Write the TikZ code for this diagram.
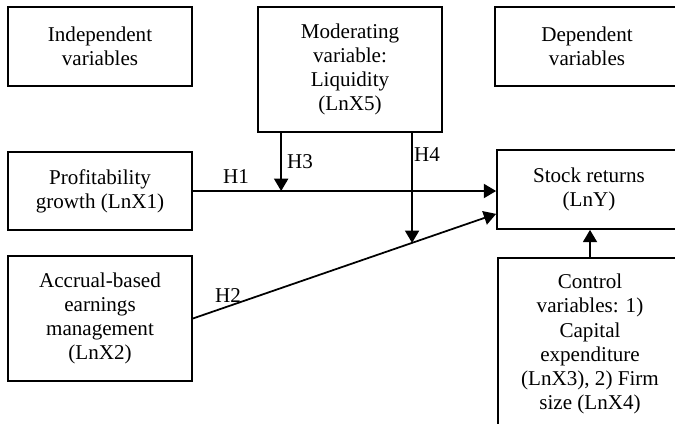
\documentclass[tikz,border=0pt]{standalone}
\usepackage{fontspec}
\setmainfont{Liberation Serif}
\usetikzlibrary{arrows.meta,calc}

\begin{document}
\begin{tikzpicture}[x=0.02cm,y=-0.02cm,
  varbox/.style={draw,line width=1pt,align=center,minimum width=3.68cm,inner sep=2pt,
    font=\fontsize{12}{13.7}\selectfont},
  link/.style={line width=1pt,-{Triangle[length=7pt,width=8pt]}},
  hyp/.style={font=\fontsize{12}{13.7}\selectfont,inner sep=1pt}]
\useasboundingbox (0,0) rectangle (675,423);
\clip (0,0) rectangle (675,423);
% boxes
\node [varbox,minimum height=1.58cm] (indep)  at (100,46.5) {Independent\\variables};
\node [varbox,minimum height=2.5cm]  (moder)  at (350,69.5) {Moderating\\variable:\\Liquidity\\(LnX5)};
\node [varbox,minimum height=1.58cm] (dep)    at (587,46.5) {Dependent\\variables};
\node [varbox,minimum height=1.56cm] (profit) at (100,191) {Profitability\\growth (LnX1)};
\node [varbox,minimum height=2.5cm]  (accrual) at (100,318.5) {Accrual-based\\earnings\\management\\(LnX2)};
\node [varbox,minimum height=1.58cm] (stock)  at (589,189.5) {Stock returns\\(LnY)};
\node [varbox,minimum height=3.44cm] (ctrl)   at (590,344) {Control\\variables: 1)\\Capital\\expenditure\\(LnX3), 2) Firm\\size (LnX4)};
% connectors
\coordinate (h2end) at ($(stock.south west)+(0,-16)$);
\coordinate (h3top) at ($(moder.south west)+(24,0)$);
\coordinate (h4end) at ($(accrual.east)!0.7228!(h2end)$);
\draw [link] (profit.east) -- (stock.west |- profit.east);
\draw [link] (accrual.east) -- (h2end);
\draw [link] (h3top) -- (h3top |- profit.east);
\draw [link] (h4end |- moder.south) -- (h4end);
\draw [link] (ctrl.north) -- (ctrl.north |- stock.south);
% labels
\node [hyp] (h1) at (236,177) {H1};
\node [hyp] (h2) at (228,296) {H2};
\node [hyp] (h3) at (300,162) {H3};
\node [hyp] (h4) at (427,155) {H4};
\end{tikzpicture}
\end{document}
